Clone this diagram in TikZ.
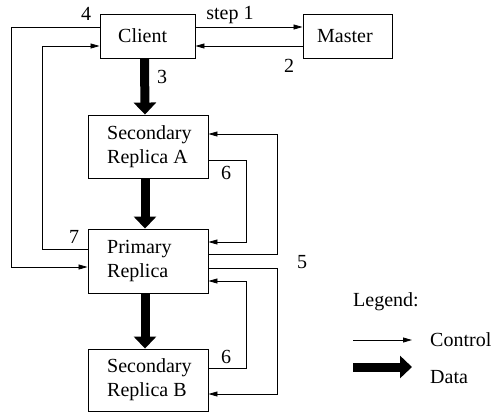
\documentclass[tikz,border=0pt]{standalone}
\usepackage{fontspec}
\setmainfont{Liberation Serif}
\usetikzlibrary{arrows.meta}
\begin{document}
\begin{tikzpicture}[x=1pt,y=-1pt,
  every node/.style={font=\fontsize{20}{24}\selectfont, inner sep=0pt, text=black},
  box/.style={draw, line width=0.9pt, minimum width=120pt, minimum height=63pt},
  lbl/.style={anchor=west, align=left},
  ctl/.style={line width=0.8pt, -{Triangle[length=9pt,width=5pt]}},
  dat/.style={line width=9pt, -{Triangle[length=12pt,width=22pt]}}]
\useasboundingbox (0,0) rectangle (493,413);
% boxes
\node[box, minimum width=95pt, minimum height=44pt] (Client) at (147.5,36) {};
\node[box, minimum width=89pt, minimum height=44pt] (Master) at (347.5,36) {};
\node[box] (SecA) at (148,146.5) {};
\node[box, minimum height=64pt] (Prim) at (148,261) {};
\node[box, minimum height=62pt] (SecB) at (148,380) {};
% box texts
\node[lbl] (tClient) at (118,36) {Client};
\node[lbl] (tMaster) at (317,36) {Master};
\node[lbl] (tSecA) at (107,146.5) {Secondary\\Replica A};
\node[lbl] (tPrim) at (107,261) {Primary\\Replica};
\node[lbl] (tSecB) at (107,380) {Secondary\\Replica B};
% data arrows
\draw[dat] ([xshift=-3pt]Client.south) -- ([xshift=-3pt]SecA.north);
\draw[dat] ([xshift=-3pt]SecA.south) -- ([xshift=-3pt]Prim.north);
\draw[dat] ([xshift=-3pt]Prim.south) -- ([xshift=-3pt]SecB.north);
% control arrows
\draw[ctl] ([yshift=9pt]Client.east) -- ([yshift=9pt]Master.west);
\draw[ctl] ([yshift=-10pt]Master.west) -- ([yshift=-10pt]Client.east);
\draw[ctl] ([yshift=9pt]Client.west) -- ++(-88,0) |- ([yshift=-6pt]Prim.west);
\draw[ctl] ([yshift=12pt]Prim.west) -- ++(-45,0) |- ([yshift=-10pt]Client.west);
\draw[ctl] ([yshift=-13.5pt]SecA.east) -- ++(38,0) |- ([yshift=19pt]Prim.east);
\draw[ctl] ([yshift=7pt]Prim.east) -- ++(69,0) |- ([yshift=12.5pt]SecA.east);
\draw[ctl] ([yshift=-7pt]Prim.east) -- ++(69,0) |- ([yshift=-14pt]SecB.east);
\draw[ctl] ([yshift=12pt]SecB.east) -- ++(38,0) |- ([yshift=-20pt]Prim.east);
% step labels
\node (n4) at (86,14) {4};
\node (n1) at (230,15) {step 1};
\node (n2) at (289,66) {2};
\node (n3) at (162,77) {3};
\node (n6a) at (226,173) {6};
\node (n7) at (74,237) {7};
\node (n5) at (302,262) {5};
\node (n6b) at (226,357) {6};
% legend
\node[anchor=west] (leg) at (353,302) {Legend:};
\coordinate (c1) at (353,340);
\coordinate (c2) at (412,340);
\draw[ctl] (c1) -- (c2);
\node[anchor=west] (lc) at (430,340) {Control};
\coordinate (d1) at (353,367);
\coordinate (d2) at (412,367);
\draw[dat] (d1) -- (d2);
\node[anchor=west] (ld) at (430,377) {Data};
\end{tikzpicture}
\end{document}
